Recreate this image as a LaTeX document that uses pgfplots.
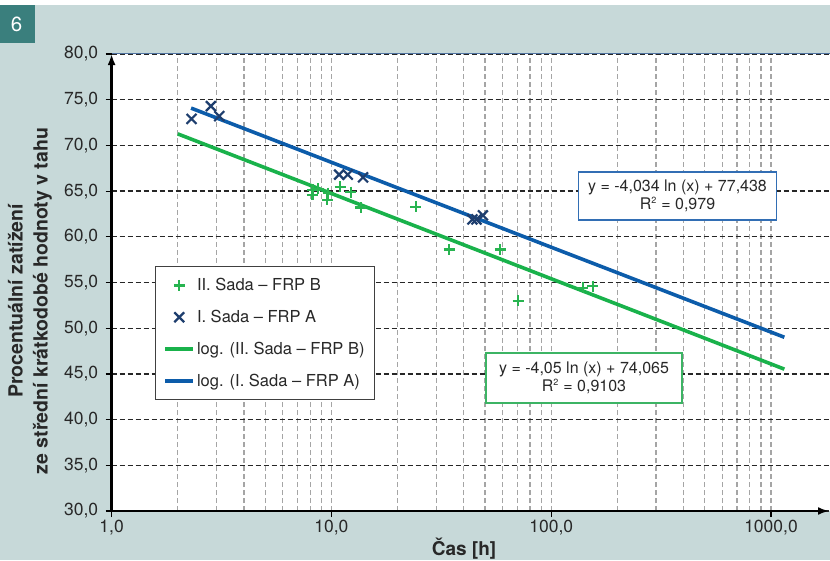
\documentclass[border=0pt]{standalone}
\usepackage{fontspec}
\setmainfont{TeX Gyre Heros}
\usepackage{pgfplots}
\pgfplotsset{compat=1.18}
\usetikzlibrary{arrows.meta}
\definecolor{bgc}{RGB}{199,217,217}
\definecolor{teal6}{RGB}{58,127,125}
\definecolor{gline}{RGB}{25,178,75}
\definecolor{gmark}{RGB}{40,180,80}
\definecolor{bline}{RGB}{12,92,170}
\definecolor{bmark}{RGB}{30,62,110}
\definecolor{txt}{RGB}{40,40,40}
\definecolor{gridgray}{RGB}{165,165,165}
\definecolor{topblue}{RGB}{80,115,160}
\definecolor{boxblue}{RGB}{50,110,180}
\definecolor{boxgreen}{RGB}{60,180,100}
\pgfplotsset{
 markleg/.style={legend image code/.code={\draw[mark repeat=2,mark phase=2,##1] plot coordinates {(0pt,0pt) (14pt,0pt) (28pt,0pt)};}},
 lineleg/.style={legend image code/.code={\draw[##1] (0pt,0pt) -- (28pt,0pt);}},
}

\begin{document}
\begin{tikzpicture}
\fill[bgc] (0pt,0pt) rectangle (830pt,555pt);
\fill[white] (0pt,555pt) rectangle (830pt,560pt);
\useasboundingbox (0pt,0pt) rectangle (830pt,560pt);
\fill[teal6] (0pt,517pt) rectangle (35pt,555pt);
\node[white, font=\fontsize{20.5}{22}\selectfont] at (16.5pt,536pt) {6};
\fill[white] (111.6pt,49pt) rectangle (830pt,506pt);
\begin{axis}[
  at={(111.6pt,49pt)}, anchor=south west,
  width=717.4pt, height=457pt, scale only axis,
  xmode=log, xmin=1, xmax=1836, ymin=30, ymax=80,
  axis lines=left,
  axis line style={line width=2.6pt, black, -{Latex[length=11pt,width=8pt]}},
  xtick={1,10,100,1000},
  xticklabels={{1,0},{10,0},{100,0},{1000,0}},
  minor xtick={2,3,4,5,6,7,8,9,20,30,40,50,60,70,80,90,200,300,400,500,600,700,800,900},
  ytick={30,35,40,45,50,55,60,65,70,75,80},
  yticklabels={{30,0},{35,0},{40,0},{45,0},{50,0},{55,0},{60,0},{65,0},{70,0},{75,0},{80,0}},
  tick align=outside,
  major tick length=6pt, minor tick length=0pt,
  tick style={black, line width=1.2pt},
  tick label style={font=\fontsize{17.5}{20}\selectfont, text=txt},
  yticklabel style={xshift=-4pt},
  /pgf/number format/assume math mode=true,
  xmajorgrids, xminorgrids, ymajorgrids,
  major x grid style={gridgray, line width=1.2pt, dash pattern=on 5pt off 3pt},
  minor x grid style={gridgray, line width=1.2pt, dash pattern=on 5pt off 3pt},
  major y grid style={black!85, line width=1.3pt, dash pattern=on 5pt off 3pt},
  legend style={at={(rel axis cs:0.0605,0.536)}, anchor=north west,
    draw=black!75, line width=1pt, fill=white,
    font=\fontsize{16.5}{19}\selectfont, text=txt,
    inner xsep=8pt, inner ysep=10pt, row sep=14pt},
  legend cell align=left,
  clip=false,
]
\addlegendimage{only marks, mark=+, mark size=5.5pt, gmark, mark options={line width=2.2pt}, markleg}
\addlegendentry{II. Sada – FRP B}
\addlegendimage{only marks, mark=x, mark size=7pt, bmark, mark options={line width=2.2pt}, markleg}
\addlegendentry{I. Sada – FRP A}
\addlegendimage{gline, line width=3.5pt, lineleg}
\addlegendentry{log. (II. Sada – FRP B)}
\addlegendimage{bline, line width=3.5pt, lineleg}
\addlegendentry{log. (I. Sada – FRP A)}

% trend lines
\addplot[forget plot, gline, line width=3.6pt] coordinates {
 (2.0,71.26) (5,67.55) (10,64.74) (20,61.93) (50,58.22) (100,55.41) (200,52.61) (500,48.90) (1150,45.52)};
\addplot[forget plot, bline, line width=3.6pt] coordinates {
 (2.3,74.08) (5,70.95) (10,68.15) (20,65.35) (50,61.66) (100,58.86) (200,56.07) (500,52.37) (1150,49.01)};

% data
\addplot[forget plot, only marks, mark=+, mark size=5.5pt, gmark, mark options={line width=2.2pt}] coordinates {
 (8.2,65.15) (8.2,64.6) (8.7,65.26) (9.66,64.78) (9.56,64.06) (10.95,65.46) (12.25,64.9)
 (13.6,63.2) (24.2,63.3) (34.3,58.6) (58.7,58.6) (70.7,52.98) (139.3,54.43) (154.8,54.6)};
\addplot[forget plot, only marks, mark=x, mark size=7pt, bmark, mark options={line width=2.2pt}] coordinates {
 (2.31,72.9) (2.83,74.3) (3.09,73.2) (10.84,66.8) (11.87,66.8) (13.93,66.5)
 (43.8,61.9) (45.7,61.9) (48.9,62.35)};
\end{axis}
\draw[topblue, line width=0.9pt] (111.6pt,507pt) -- (830pt,507pt);
\node[draw=boxblue, line width=1.2pt, fill=white, align=center, text=txt,
  font=\fontsize{16}{18.5}\selectfont, minimum width=198pt, minimum height=48pt, inner sep=2pt]
  at (677.5pt,364pt) {y = -4,034 ln (x) + 77,438\\R\textsuperscript{\fontsize{9}{9}\selectfont 2} = 0,979};
\node[draw=boxgreen, line width=1.2pt, fill=white, align=center, text=txt,
  font=\fontsize{16}{18.5}\selectfont, minimum width=196pt, minimum height=50pt, inner sep=2pt]
  at (584pt,182pt) {y = -4,05 ln (x) + 74,065\\R\textsuperscript{\fontsize{9}{9}\selectfont 2} = 0,9103};
\node[rotate=90, align=center, text=txt, font=\bfseries\fontsize{19.5}{25}\selectfont]
  at (30pt,259pt) {Procentuální zatížení\\ze střední krátkodobé hodnoty v tahu};
\node[text=txt, font=\bfseries\fontsize{19}{22}\selectfont] at (464pt,11pt) {Čas [h]};
\end{tikzpicture}
\end{document}
